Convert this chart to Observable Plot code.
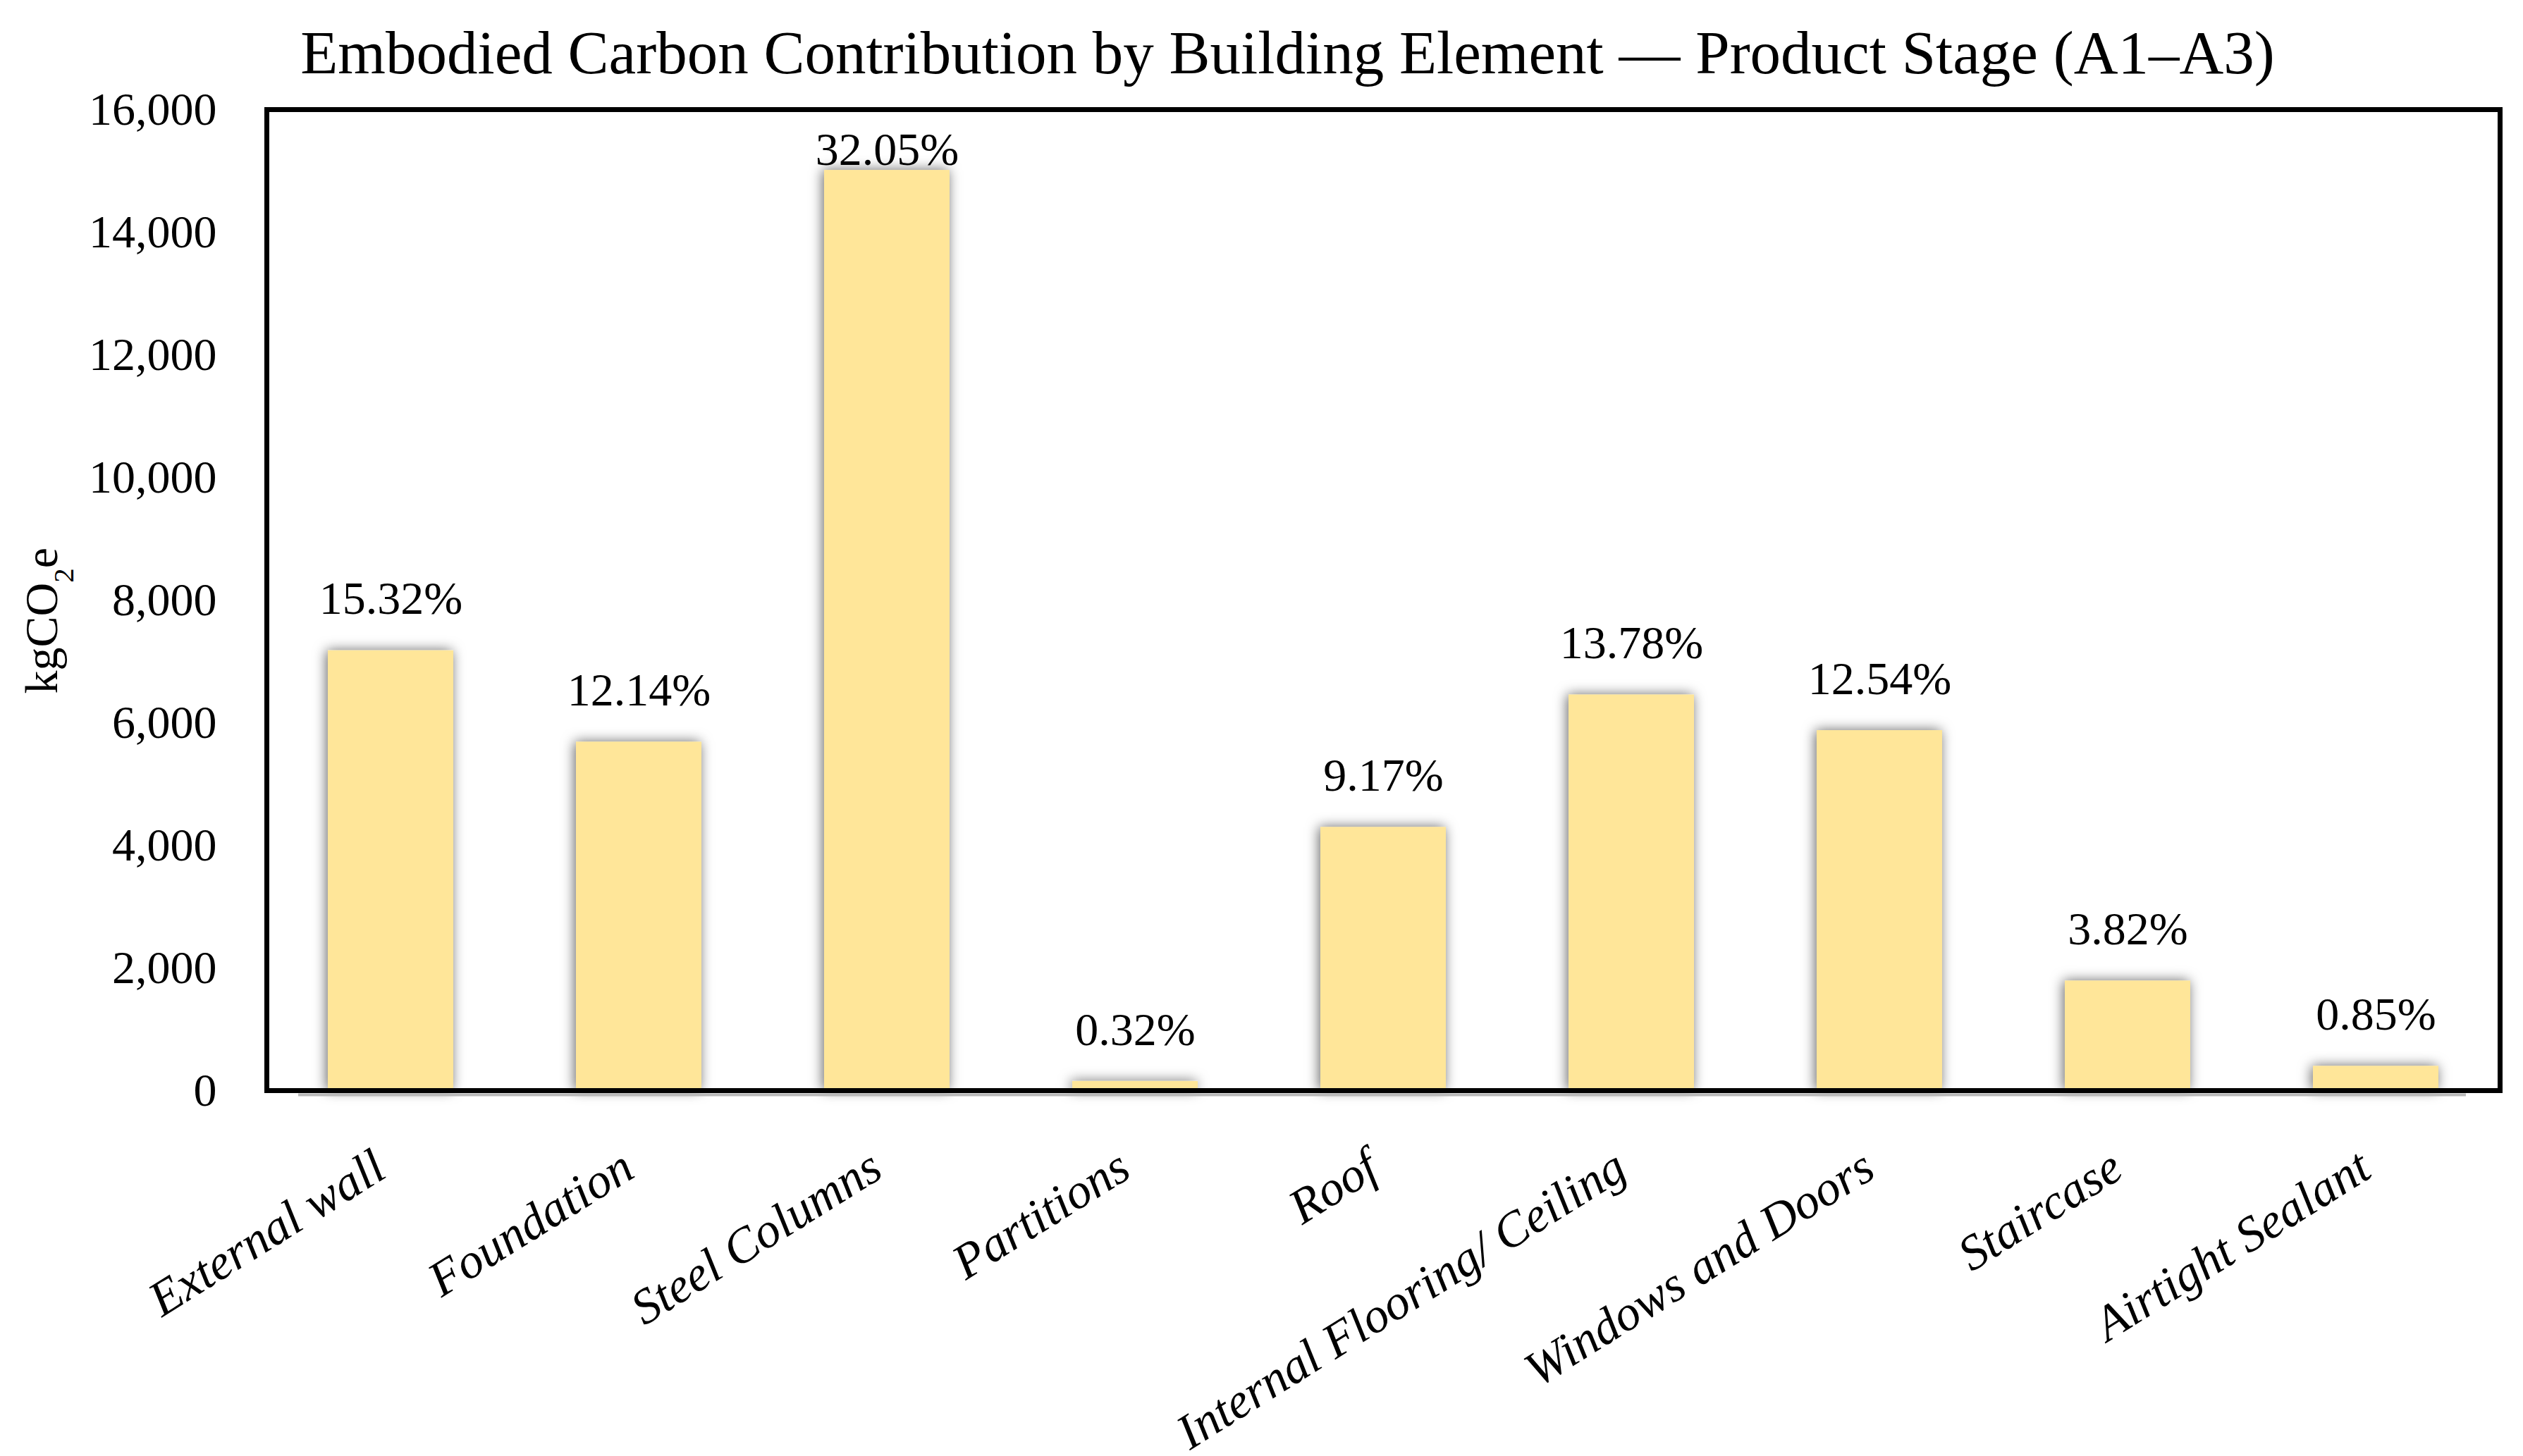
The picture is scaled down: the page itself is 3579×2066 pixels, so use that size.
<!DOCTYPE html>
<html>
<head>
<meta charset="utf-8">
<script src="https://cdn.jsdelivr.net/npm/d3@7"></script>
<script src="https://cdn.jsdelivr.net/npm/@observablehq/plot@0.6"></script>
<style>
  html, body { margin: 0; padding: 0; background: white; }
  #title {
    font-family: "Liberation Serif", serif;
    font-size: 87px;
    line-height: 87px;
    height: 130px;
    box-sizing: border-box;
    padding-top: 31px;
    padding-left: 74px;
    text-align: center;
    white-space: nowrap;
    color: black;
  }
</style>
</head>
<body>
<div id="title">Embodied Carbon Contribution by Building Element — Product Stage (A1–A3)</div>
<div id="chart"></div>
<script>
const categories = ["External wall", "Foundation", "Steel Columns", "Partitions", "Roof",
  "Internal Flooring/ Ceiling", "Windows and Doors", "Staircase", "Airtight Sealant"];
const values = [7175, 5685, 15010, 150, 4295, 6454, 5873, 1789, 398];
const shares = ["15.32%", "12.14%", "32.05%", "0.32%", "9.17%", "13.78%", "12.54%", "3.82%", "0.85%"];
const yTicks = [0, 2000, 4000, 6000, 8000, 10000, 12000, 14000, 16000];
const yLabel = "kgCO2e";
const labelCeiling = 14500;

const data = categories.map((c, i) => ({category: c, value: values[i], share: shares[i]}));

const chart = Plot.plot({
  width: 3579,
  height: 1936,
  marginLeft: 378,
  marginRight: 33,
  marginTop: 25,
  marginBottom: 519,
  style: {fontFamily: "Liberation Serif, serif", fontSize: "66px", color: "black", background: "white", overflow: "visible"},
  x: {domain: categories, paddingInner: 0.495, paddingOuter: 0.2475, axis: null},
  y: {domain: [0, 16000], axis: null},
  marks: [
    Plot.barY(data, {x: "category", y: "value", fill: "#FFE699"}),
    Plot.ruleY([0], {stroke: "#b8b8b8", strokeWidth: 4, dy: 6, insetLeft: 45, insetRight: 48}),
    Plot.frame({stroke: "black", strokeWidth: 7}),
    Plot.axisY({ticks: yTicks, tickFormat: d3.format(","), tickSize: 0, tickPadding: 71, fontSize: 66, label: null}),
    Plot.text(categories, {x: d => d, text: d => d, frameAnchor: "bottom", rotate: -32, textAnchor: "end",
      lineAnchor: "middle", dy: 102, dx: -15, fontStyle: "italic", fontSize: 70}),
    Plot.text(data, {x: "category", y: d => Math.min(d.value, labelCeiling), text: "share", dy: -73,
      lineAnchor: "middle", fontSize: 66}),
    Plot.text([yLabel], {text: d => d, frameAnchor: "left", rotate: -90, dx: -298, dy: 133,
      lineAnchor: "bottom", fontSize: 66})
  ]
});

document.getElementById("chart").appendChild(chart);

// soft shadow around bars
const ns = "http://www.w3.org/2000/svg";
const defs = document.createElementNS(ns, "defs");
defs.innerHTML = '<filter id="barShadow" x="-20%" y="-20%" width="140%" height="140%"><feDropShadow dx="-2" dy="0" stdDeviation="9" flood-color="#000" flood-opacity="0.6"/></filter>';
chart.insertBefore(defs, chart.firstChild);
const barG = chart.querySelector('g[aria-label="bar"]');
if (barG) barG.setAttribute("filter", "url(#barShadow)");

// subscript 2 in the axis title
chart.querySelectorAll("text").forEach(t => {
  if (t.textContent === yLabel) {
    t.textContent = "";
    t.appendChild(document.createTextNode("kgCO"));
    const s = document.createElementNS(ns, "tspan");
    s.setAttribute("baseline-shift", "sub");
    s.setAttribute("font-size", "62%");
    s.textContent = "2";
    t.appendChild(s);
    const e = document.createElementNS(ns, "tspan");
    e.textContent = "e";
    t.appendChild(e);
  }
});
</script>
</body>
</html>
